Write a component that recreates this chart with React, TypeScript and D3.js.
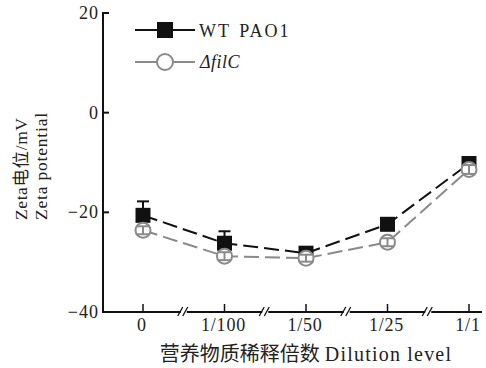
import React from "react";
import * as d3 from "d3";

const categories = ["0", "1/100", "1/50", "1/25", "1/1"];
const wtValues = [-20.6, -26.2, -28.2, -22.4, -10.2];
const wtErrors = [2.8, 2.4, 0.8, 0.6, 0.8];
const filcValues = [-23.6, -28.8, -29.2, -26.0, -11.4];
const filcErrors = [0.8, 0.8, 0.7, 0.8, 0.9];
const yTicks = [20, 0, -20, -40];
const seriesNames = ["WT PAO1", "ΔfilC"];

const FONT = "'Liberation Serif', 'DejaVu Serif', 'Noto Sans CJK SC', serif";
const GREY = "#8a8a8a";

export default function App() {
  const W = 486, H = 368;
  const axisX = 103;
  const y = d3.scaleLinear().domain([-40, 20]).range([312, 13]);
  const x = d3.scalePoint<string>().domain(categories).range([143, 469]);
  const line = d3
    .line<number>()
    .x((_, i) => x(categories[i]) as number)
    .y((d) => y(d));

  const breaks = categories.slice(0, -1).map((c, i) => ((x(c) as number) + (x(categories[i + 1]) as number)) / 2);

  const errBars = (vals: number[], errs: number[], color: string) =>
    vals.map((v, i) => {
      const cx = x(categories[i]) as number;
      return (
        <g key={i} stroke={color} strokeWidth={2}>
          <line x1={cx} x2={cx} y1={y(v + errs[i])} y2={y(v - errs[i])} />
          <line x1={cx - 6} x2={cx + 6} y1={y(v + errs[i])} y2={y(v + errs[i])} />
          <line x1={cx - 6} x2={cx + 6} y1={y(v - errs[i])} y2={y(v - errs[i])} />
        </g>
      );
    });

  return (
    <svg width={W} height={H} style={{ position: "absolute", left: 0, top: 0 }} fontFamily={FONT}>
      <rect width={W} height={H} fill="#fff" />
      {/* axes */}
      <line x1={axisX} x2={axisX} y1={12} y2={313} stroke="#111" strokeWidth={2} />
      <line x1={axisX - 1} x2={482} y1={312} y2={312} stroke="#111" strokeWidth={2} />
      {yTicks.map((t) => (
        <g key={t}>
          <line x1={axisX} x2={axisX + 6} y1={y(t)} y2={y(t)} stroke="#111" strokeWidth={2} />
          <text x={axisX - 4} y={y(t) + 6} textAnchor="end" fontSize={18} fill="#222" letterSpacing={1}>
            {t < 0 ? "−" + Math.abs(t) : t}
          </text>
        </g>
      ))}
      {categories.map((c) => (
        <g key={c}>
          <line x1={x(c)} x2={x(c)} y1={312} y2={304} stroke="#111" strokeWidth={1.5} />
          <text x={(x(c) as number) - 1} y={331} textAnchor="middle" fontSize={18} fill="#222" letterSpacing={0.8}>
            {c}
          </text>
        </g>
      ))}
      {breaks.map((bx, i) => (
        <g key={i}>
          <rect x={bx - 3} y={308} width={6} height={8} fill="#fff" />
          <line x1={bx - 6} x2={bx - 1} y1={316} y2={307} stroke="#111" strokeWidth={1.3} />
          <line x1={bx - 1} x2={bx + 4} y1={316} y2={307} stroke="#111" strokeWidth={1.3} />
        </g>
      ))}
      {/* axis titles */}
      <text x={306} y={361} textAnchor="middle" fontSize={20} fill="#222">
        营养物质稀释倍数 <tspan letterSpacing={1.2}>Dilution level</tspan>
      </text>
      <g transform="translate(27,220) rotate(-90)">
        <text x={0} y={0} fontSize={17.5} fill="#222" letterSpacing={0.6}>Zeta电位/mV</text>
        <text x={0} y={20} fontSize={17.5} fill="#222" letterSpacing={0.8}>Zeta potential</text>
      </g>
      {/* lines */}
      <path d={line(wtValues) || ""} fill="none" stroke="#111" strokeWidth={2} strokeDasharray="15,6" />
      <path d={line(filcValues) || ""} fill="none" stroke={GREY} strokeWidth={2} strokeDasharray="15,6" />
      {/* WT markers */}
      {errBars(wtValues, wtErrors, "#111")}
      {wtValues.map((v, i) => (
        <rect key={i} x={(x(categories[i]) as number) - 7.5} y={y(v) - 7.5} width={15} height={15} fill="#111" />
      ))}
      {/* filC markers */}
      {filcValues.map((v, i) => (
        <circle key={i} cx={x(categories[i])} cy={y(v)} r={7.5} fill="#fff" stroke={GREY} strokeWidth={2} />
      ))}
      {errBars(filcValues, filcErrors, GREY)}
      {/* legend */}
      <line x1={135} x2={195} y1={30} y2={30} stroke="#111" strokeWidth={2} />
      <rect x={157} y={22} width={16} height={16} fill="#111" />
      <text x={199} y={37} fontSize={18} fill="#222" letterSpacing={2} wordSpacing={2}>{seriesNames[0]}</text>
      <line x1={135} x2={195} y1={62} y2={62} stroke={GREY} strokeWidth={2} />
      <circle cx={165} cy={62} r={8} fill="#fff" stroke={GREY} strokeWidth={2} />
      <text x={200} y={68} fontSize={18} fill="#222" fontStyle="italic" letterSpacing={0.5}>{seriesNames[1]}</text>
    </svg>
  );
}
